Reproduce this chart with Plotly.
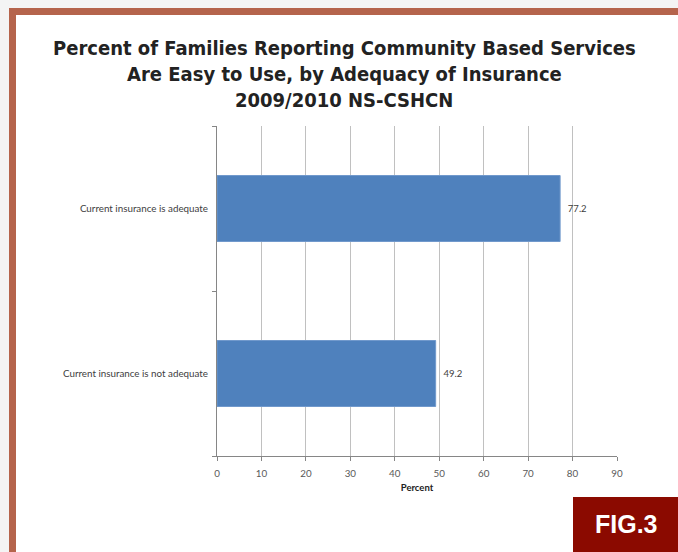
import plotly.graph_objects as go

categories = ["Current insurance is not adequate", "Current insurance is adequate"]
values = [49.2, 77.2]
value_labels = ["49.2", "77.2"]
x_ticks = [0, 10, 20, 30, 40, 50, 60, 70, 80, 90]
title_lines = [
    "Percent of Families Reporting Community Based Services",
    "Are Easy to Use, by Adequacy of Insurance",
    "2009/2010 NS-CSHCN",
]
x_title = "Percent"
fig_label = "FIG.3"

W, H = 678, 552
L, R, T, B = 217, 617, 126, 456
PW, PH = R - L, B - T


def px(x):
    return (x - L) / PW


def py(y):
    return (B - y) / PH


fig = go.Figure()
fig.add_trace(go.Bar(
    y=categories, x=values, orientation="h",
    marker=dict(color="#4f81bd", line=dict(color="#7199cc", width=1)),
    text=value_labels, texttemplate="\u2002%{text}", textposition="outside", cliponaxis=False,
    textfont=dict(family="Lato", size=9.5, color="#404040"),
    hoverinfo="skip",
))

shapes = [
    dict(type="rect", xref="paper", yref="paper", x0=px(9), x1=px(700), y0=py(8), y1=py(600),
         fillcolor="#b5644c", line=dict(width=0), layer="below"),
    dict(type="rect", xref="paper", yref="paper", x0=px(16), x1=px(700), y0=py(15), y1=py(600),
         fillcolor="#ffffff", line=dict(width=0), layer="below"),
    dict(type="rect", xref="paper", yref="paper", x0=px(573), x1=px(700), y0=py(497), y1=py(600),
         fillcolor="#8b0a00", line=dict(width=0), layer="above"),
]

annotations = []
title_y = [48, 74, 100]
for line, yy in zip(title_lines, title_y):
    annotations.append(dict(
        text="<b>" + line + "</b>", xref="paper", yref="paper", x=px(344), y=py(yy),
        xanchor="center", yanchor="middle", showarrow=False,
        font=dict(family="DejaVu Sans Condensed", size=20, color="#222222"),
    ))
annotations.append(dict(
    text="<b>" + fig_label + "</b>", xref="paper", yref="paper", x=px(626), y=py(524),
    xanchor="center", yanchor="middle", showarrow=False,
    font=dict(family="Liberation Sans", size=25, color="#ffffff"),
))

fig.update_layout(
    width=W, height=H,
    margin=dict(l=L, r=W - R, t=T, b=H - B),
    paper_bgcolor="#f4f4f4",
    plot_bgcolor="rgba(0,0,0,0)",
    showlegend=False,
    bargap=0.6,
    shapes=shapes,
    annotations=annotations,
    xaxis=dict(
        range=[0, 90], tickvals=x_ticks, ticktext=[str(t) for t in x_ticks],
        showgrid=True, gridcolor="#c0c0c0", gridwidth=1,
        showline=True, linecolor="#868686", linewidth=1,
        ticks="outside", ticklen=4, tickcolor="#868686",
        tickfont=dict(family="Lato", size=9.8, color="#595959"),
        ticklabelstandoff=4,
        title=dict(text="<b>" + x_title + "</b>", standoff=6,
                   font=dict(family="Lato", size=9.5, color="#222222")),
        zeroline=False, fixedrange=True,
    ),
    yaxis=dict(
        categoryorder="array", categoryarray=categories,
        showgrid=False, showline=True, linecolor="#868686", linewidth=1,
        ticks="outside", ticklen=4, tickcolor="#868686", tickson="boundaries",
        tickfont=dict(family="Lato", size=9.8, color="#404040"),
        ticklabelstandoff=6,
        fixedrange=True,
    ),
)

fig.write_html(
    "out.html",
    config={"displayModeBar": False},
    post_script="document.body.style.margin='0';document.body.style.overflow='hidden';",
)
